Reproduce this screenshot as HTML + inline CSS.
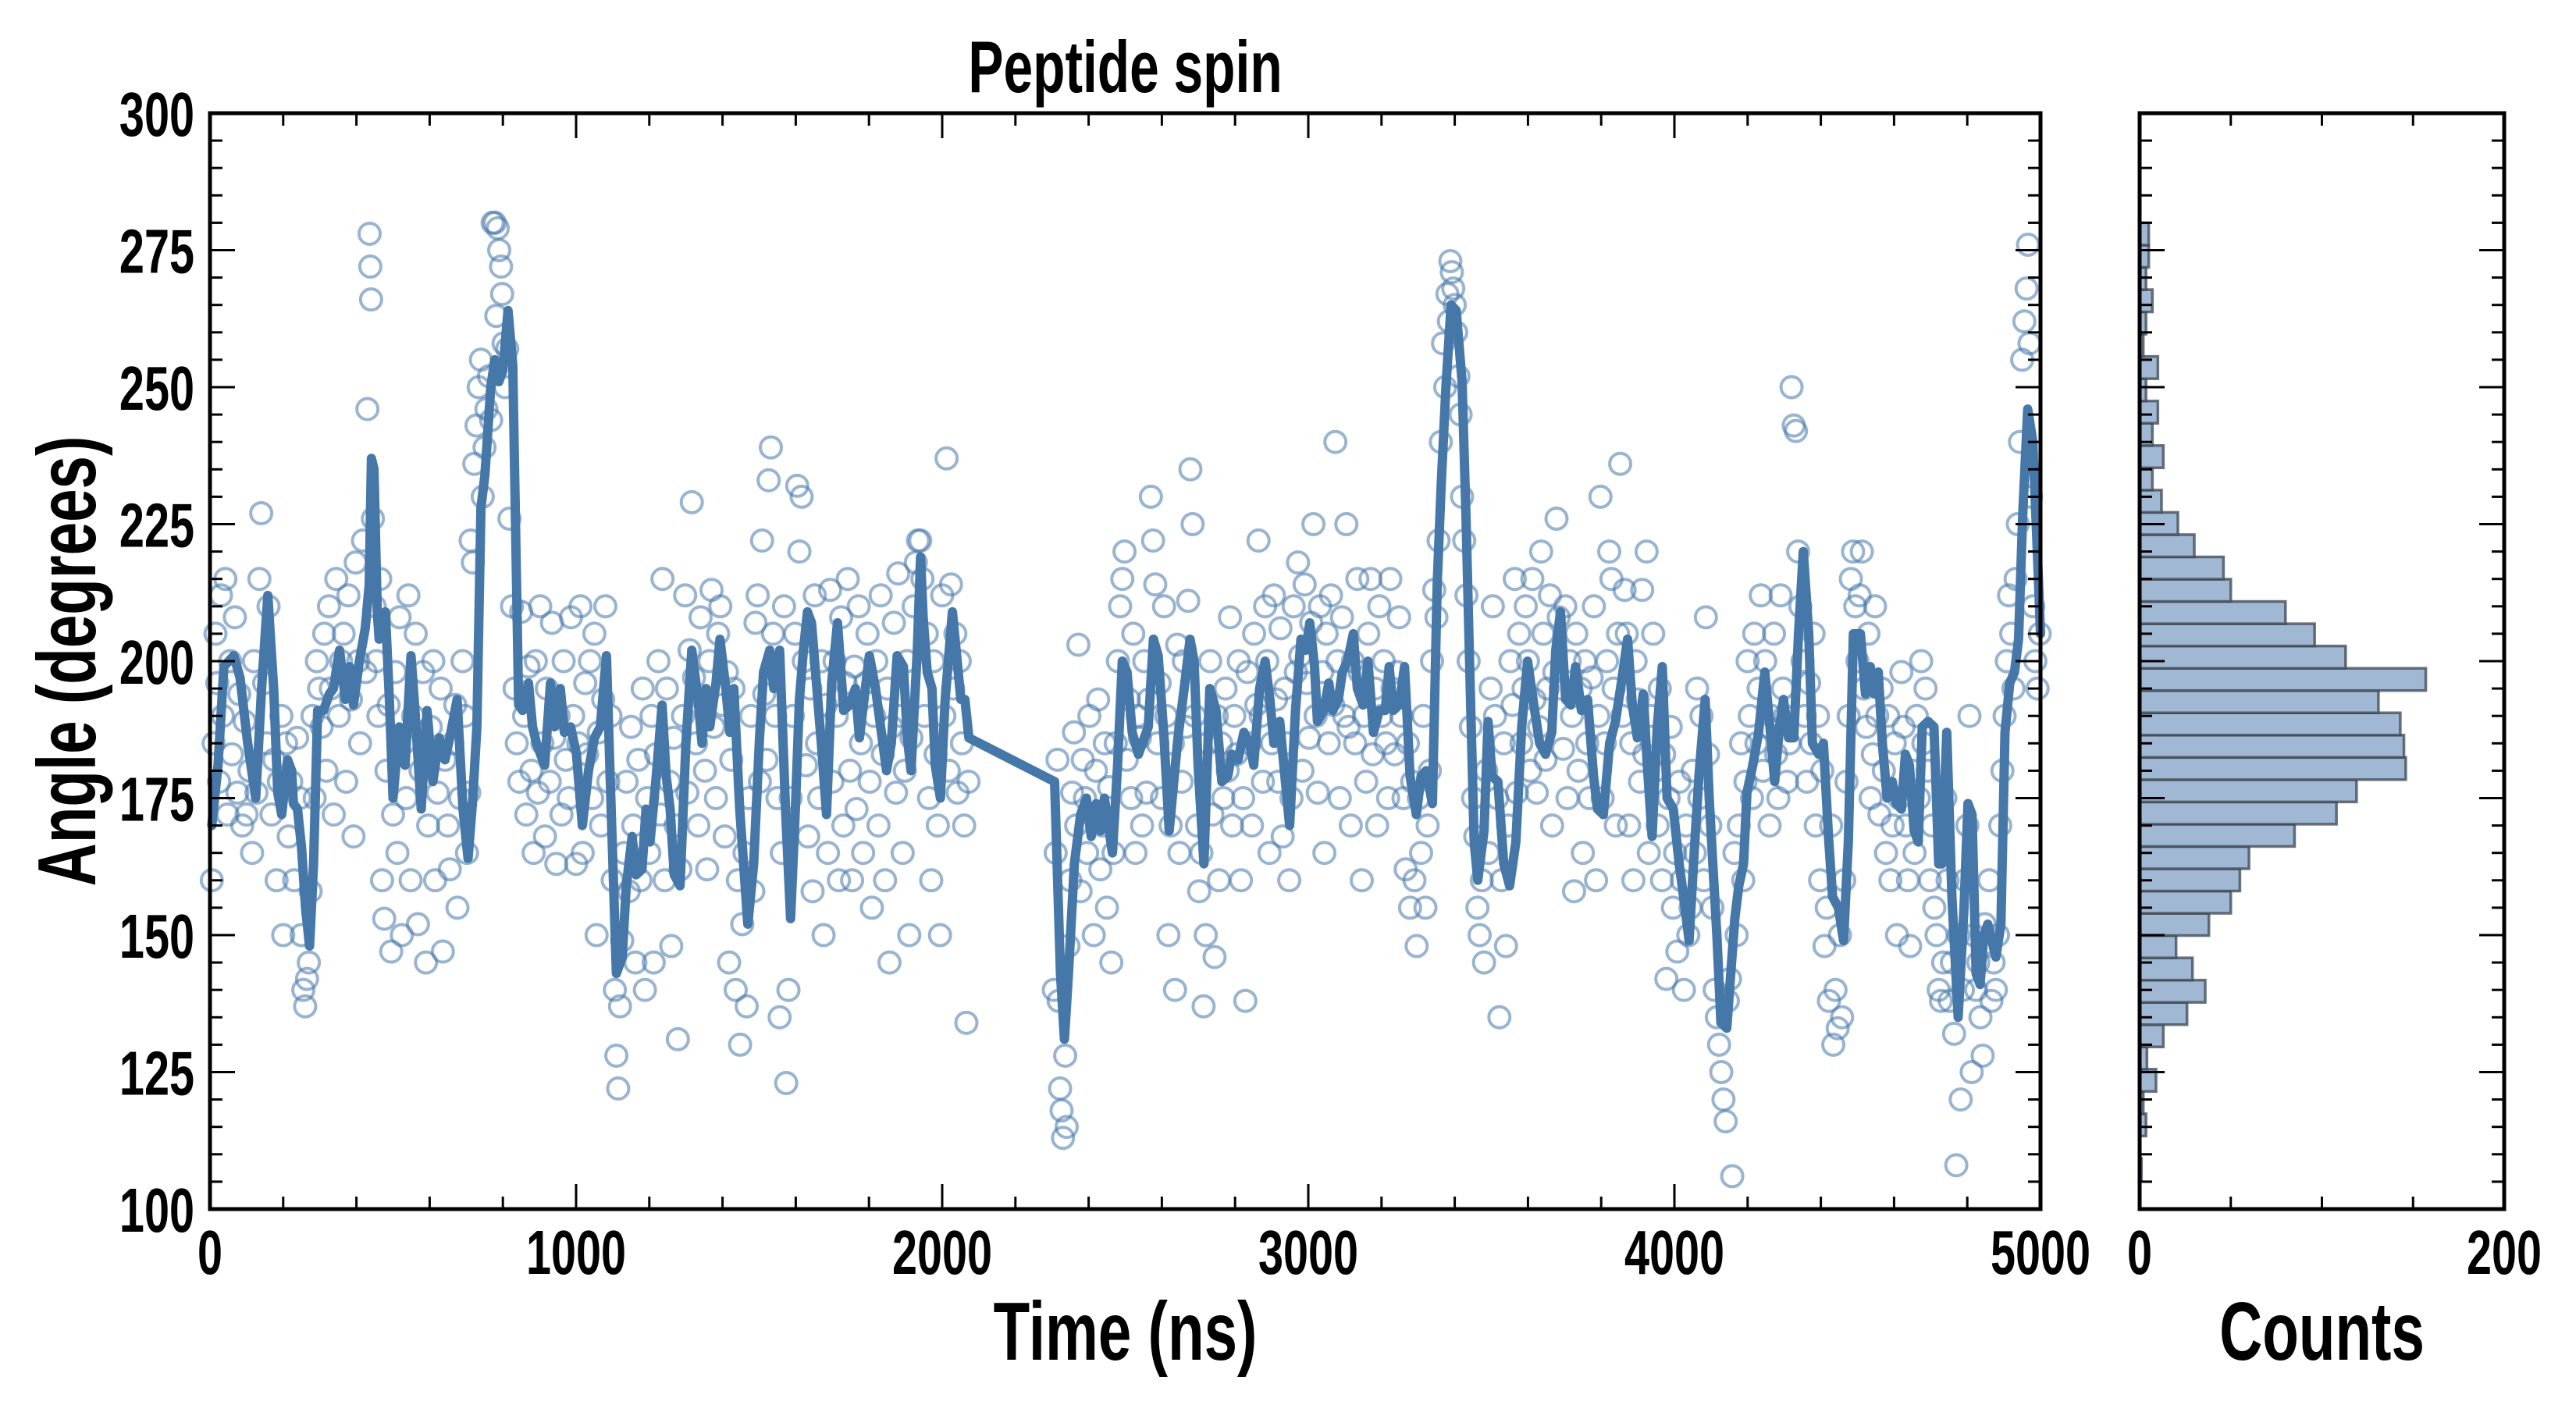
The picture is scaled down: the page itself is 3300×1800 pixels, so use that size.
<!DOCTYPE html>
<html><head><meta charset="utf-8"><style>
html,body{margin:0;padding:0;background:#fff;}
svg{display:block;}
text{font-family:"Liberation Sans Narrow","Liberation Sans",sans-serif;font-weight:bold;fill:#000;}
</style></head><body>
<svg id="chart" width="3300" height="1800" viewBox="0 0 3300 1800" xmlns="http://www.w3.org/2000/svg">
<rect width="3300" height="1800" fill="#fff"/>
<g id="main"></g>
<g id="hist"></g>
<g id="labels"></g>
</svg>
<script>
const lineT=[5,22,38,65,82,103,125,141,158,174,185,196,212,223,228,239,250,261,272,283,294,310,326,337,354,370,381,392,408,424,435,441,448,457,462,479,490,500,517,533,549,560,577,593,609,626,642,658,675,691,705,718,729,740,751,767,778,789,800,814,827,843,854,870,881,892,914,930,941,957,968,985,1001,1017,1034,1050,1066,1083,1093,1110,1126,1137,1153,1164,1180,1191,1202,1219,1235,1246,1257,1268,1284,1300,1316,1333,1344,1355,1365,1382,1393,1409,1420,1431,1447,1469,1485,1501,1512,1529,1540,1556,1572,1586,1599,1610,1621,1632,1643,1654,1670,1684,1698,1714,1731,1747,1763,1774,1790,1801,1818,1834,1848,1861,1877,1894,1905,1915,1932,1941,1948,1959,1972,1981,1995,2008,2028,2041,2051,2062,2073,2307,2323,2334,2345,2361,2378,2394,2407,2421,2432,2443,2454,2465,2479,2492,2505,2519,2536,2552,2563,2577,2590,2606,2620,2634,2644,2661,2677,2688,2699,2715,2731,2748,2764,2780,2791,2808,2824,2840,2851,2867,2882,2895,2906,2922,2936,2949,2965,2980,2993,3004,3017,3025,3042,3056,3067,3082,3093,3107,3123,3134,3150,3163,3178,3194,3210,3221,3232,3248,3263,3278,3295,3308,3322,3339,3352,3363,3376,3390,3404,3420,3431,3442,3453,3463,3480,3491,3502,3518,3534,3550,3567,3583,3599,3616,3632,3648,3665,3676,3689,3703,3717,3730,3746,3763,3779,3790,3806,3823,3839,3855,3872,3885,3899,3915,3926,3939,3953,3967,3980,3997,4013,4029,4040,4054,4067,4084,4095,4105,4116,4127,4143,4154,4165,4176,4189,4198,4214,4230,4247,4261,4274,4287,4298,4312,4326,4339,4352,4367,4377,4394,4407,4421,4432,4448,4462,4475,4489,4508,4522,4535,4546,4557,4568,4581,4595,4606,4620,4631,4642,4655,4666,4677,4693,4709,4722,4731,4744,4758,4775,4791,4802,4813,4824,4835,4845,4856,4867,4878,4892,4903,4916,4929,4940,4951,4965,4979,4992,5000];
const lineY=[170,181,199,201,197,185,175,195,212,195,176,172,182,180,174,173,166,155,148,163,191,191,194,195,202,193,199,192,200,206,214,237,235,209,204,209,193,175,188,181,201,191,173,191,178,186,182,187,193,173,164,175,188,228,234,250,255,251,253,264,254,192,191,196,188,185,181,196,188,195,187,188,183,170,180,186,188,201,179,143,146,159,168,161,162,173,167,179,192,179,173,161,159,185,202,193,185,195,188,196,204,195,187,195,173,152,163,186,198,202,195,202,173,153,173,193,202,209,207,198,185,172,196,207,191,192,195,186,195,201,195,187,180,185,201,199,186,180,202,219,208,198,195,181,175,193,209,200,193,193,186,178,143,131,143,163,172,175,168,174,169,175,170,165,181,200,198,187,183,186,188,204,201,186,169,179,186,195,204,200,181,163,195,191,178,179,183,182,187,185,181,195,200,193,185,189,179,170,191,204,202,207,199,189,191,196,191,193,198,200,205,195,192,200,187,191,191,199,191,192,199,179,172,179,180,174,214,232,250,265,264,251,226,196,167,160,169,189,179,178,163,159,167,188,200,192,185,183,187,202,209,193,192,199,191,193,179,173,172,185,189,196,204,192,186,194,181,168,188,199,175,173,163,155,149,165,179,193,175,163,150,134,133,143,153,159,163,176,181,187,198,188,178,188,193,186,186,205,220,205,185,183,185,168,157,155,149,167,205,205,194,199,194,198,185,175,178,174,173,183,181,169,167,188,189,188,163,163,187,157,135,155,174,172,143,141,150,152,149,146,152,187,196,198,204,226,246,240,219,205];
const scatter=[[5,160],[10,185],[15,205],[20,196],[25,178],[30,212],[35,190],[42,215],[48,172],[55,200],[60,183],[68,208],[75,176],[80,194],[88,170],[95,189],[100,172],[108,180],[115,165],[120,200],[127,176],[135,215],[140,227],[148,196],[155,185],[160,210],[168,172],[175,182],[182,160],[188,178],[195,190],[200,150],[208,185],[215,168],[222,178],[230,160],[238,186],[245,175],[250,150],[255,140],[260,137],[265,142],[270,145],[275,158],[280,190],[286,175],[292,200],[298,195],[305,188],[312,205],[318,180],[325,210],[330,195],[338,172],[345,215],[352,190],[358,200],[365,205],[372,178],[378,212],[385,193],[392,168],[398,218],[405,200],[410,185],[418,222],[425,198],[430,246],[436,278],[438,272],[440,266],[445,226],[450,210],[455,200],[460,190],[465,215],[470,160],[476,153],[482,180],[488,192],[495,147],[500,172],[506,198],[512,165],[518,208],[524,150],[530,185],[536,175],[542,212],[548,160],[555,190],[562,205],[568,152],[575,180],[582,198],[590,145],[596,170],[603,188],[610,200],[615,160],[622,176],[630,195],[636,147],[642,182],[650,170],[655,162],[662,185],[670,192],[676,155],[683,175],[690,200],[696,190],[702,165],[708,176],[712,222],[718,218],[722,236],[728,243],[734,250],[740,255],[745,230],[750,239],[755,246],[762,252],[768,244],[772,280],[778,280],[782,263],[786,279],[790,275],[795,272],[798,267],[802,258],[806,250],[812,257],[818,226],[825,210],[832,195],[838,185],[845,178],[850,209],[858,190],[864,172],[870,199],[878,180],[884,165],[890,200],[896,176],[902,210],[908,185],[915,168],[920,195],[928,178],[934,207],[940,186],[946,163],[952,190],[960,172],[966,200],[972,182],[980,175],[986,208],[992,190],[1000,163],[1006,185],[1012,210],[1018,165],[1025,196],[1030,183],[1038,200],[1044,175],[1050,205],[1056,150],[1062,187],[1068,170],[1074,193],[1080,210],[1088,178],[1094,190],[1100,160],[1106,140],[1110,128],[1115,122],[1120,137],[1126,149],[1132,165],[1138,178],[1144,158],[1150,188],[1156,170],[1162,145],[1170,182],[1176,160],[1182,195],[1188,140],[1194,175],[1200,165],[1206,190],[1212,145],[1218,183],[1225,200],[1230,172],[1236,215],[1242,160],[1248,195],[1255,178],[1260,148],[1266,186],[1272,170],[1278,131],[1285,162],[1292,190],[1298,212],[1304,176],[1310,202],[1316,229],[1322,197],[1328,185],[1334,170],[1340,208],[1346,193],[1352,180],[1358,162],[1364,200],[1370,213],[1376,188],[1382,175],[1388,205],[1394,210],[1400,192],[1406,168],[1412,198],[1418,145],[1424,182],[1430,195],[1436,140],[1442,160],[1448,130],[1454,152],[1460,165],[1466,137],[1472,175],[1478,190],[1484,158],[1490,207],[1496,212],[1502,178],[1508,222],[1514,194],[1520,182],[1526,233],[1532,239],[1538,205],[1544,190],[1550,175],[1556,135],[1562,165],[1568,210],[1574,123],[1580,140],[1586,175],[1592,190],[1598,205],[1604,232],[1610,220],[1616,230],[1622,200],[1628,181],[1634,168],[1640,195],[1646,158],[1652,212],[1658,185],[1664,175],[1670,200],[1676,150],[1682,192],[1688,165],[1694,213],[1700,178],[1706,200],[1712,190],[1718,160],[1724,208],[1730,170],[1736,196],[1742,215],[1748,180],[1754,160],[1760,199],[1766,173],[1772,210],[1778,185],[1784,165],[1790,196],[1796,205],[1802,178],[1808,155],[1814,190],[1820,200],[1826,170],[1832,212],[1838,183],[1844,160],[1850,195],[1856,145],[1862,188],[1868,207],[1874,176],[1880,216],[1886,190],[1892,165],[1898,180],[1904,200],[1910,150],[1916,186],[1922,210],[1928,218],[1934,222],[1940,222],[1946,215],[1952,190],[1958,205],[1964,175],[1970,160],[1976,200],[1982,183],[1988,170],[1994,150],[2000,212],[2006,190],[2012,237],[2018,180],[2024,214],[2030,195],[2036,205],[2042,176],[2048,200],[2054,185],[2060,170],[2066,134],[2072,178],[2305,140],[2310,165],[2315,182],[2318,138],[2322,122],[2326,118],[2330,113],[2336,128],[2340,115],[2345,148],[2350,160],[2355,176],[2360,187],[2366,170],[2372,203],[2378,158],[2384,182],[2390,175],[2396,165],[2402,190],[2408,172],[2414,150],[2420,180],[2426,193],[2432,162],[2438,170],[2444,185],[2450,155],[2456,177],[2462,145],[2468,165],[2474,185],[2480,200],[2486,210],[2492,215],[2498,220],[2504,182],[2510,193],[2516,175],[2522,205],[2528,165],[2534,190],[2540,186],[2546,170],[2552,200],[2558,176],[2564,193],[2570,230],[2576,222],[2582,214],[2588,185],[2594,196],[2600,175],[2606,210],[2612,190],[2618,150],[2624,170],[2630,185],[2636,140],[2642,203],[2648,165],[2654,178],[2660,200],[2666,188],[2672,211],[2678,235],[2684,225],[2690,190],[2696,170],[2702,158],[2708,165],[2714,137],[2720,150],[2726,185],[2732,200],[2738,172],[2744,146],[2750,190],[2756,160],[2762,185],[2768,175],[2774,195],[2780,180],[2786,208],[2792,170],[2798,190],[2804,183],[2810,200],[2816,160],[2822,175],[2828,138],[2834,198],[2840,185],[2846,170],[2852,205],[2858,192],[2864,222],[2870,190],[2876,178],[2882,210],[2888,200],[2894,165],[2900,185],[2906,212],[2912,193],[2918,178],[2924,206],[2930,168],[2936,195],[2942,185],[2948,160],[2954,175],[2960,210],[2966,198],[2972,218],[2978,201],[2984,180],[2990,214],[2996,196],[3002,186],[3008,207],[3014,225],[3020,190],[3026,176],[3032,210],[3038,198],[3044,165],[3050,205],[3056,185],[3062,212],[3068,192],[3074,240],[3080,200],[3086,175],[3092,208],[3098,190],[3104,225],[3110,188],[3116,170],[3122,200],[3128,185],[3134,215],[3140,198],[3146,160],[3152,190],[3158,178],[3164,205],[3170,215],[3176,183],[3182,195],[3188,170],[3194,210],[3200,190],[3206,200],[3212,185],[3218,175],[3224,215],[3230,195],[3236,183],[3242,198],[3248,208],[3254,190],[3260,175],[3266,162],[3272,185],[3278,155],[3284,178],[3290,160],[3296,148],[3302,175],[3308,165],[3314,190],[3320,155],[3326,170],[3332,180],[3338,200],[3344,213],[3350,208],[3356,222],[3362,240],[3368,258],[3374,250],[3380,267],[3384,262],[3388,273],[3392,271],[3396,268],[3400,265],[3404,260],[3410,252],[3416,245],[3420,230],[3426,222],[3432,212],[3438,200],[3444,188],[3450,175],[3456,168],[3462,155],[3468,150],[3474,160],[3480,145],[3486,180],[3492,165],[3498,195],[3504,210],[3510,190],[3516,175],[3522,135],[3528,160],[3534,185],[3540,148],[3546,170],[3552,200],[3558,192],[3564,215],[3570,176],[3576,205],[3582,185],[3588,195],[3594,210],[3600,200],[3606,180],[3612,215],[3618,193],[3624,176],[3630,188],[3636,220],[3642,205],[3648,182],[3654,195],[3660,212],[3666,170],[3672,198],[3678,226],[3684,208],[3690,195],[3696,184],[3702,210],[3708,175],[3714,200],[3720,190],[3726,158],[3732,205],[3738,180],[3744,195],[3750,165],[3756,200],[3762,185],[3768,175],[3774,197],[3780,210],[3786,160],[3792,190],[3798,230],[3804,175],[3810,185],[3816,200],[3822,220],[3828,215],[3834,195],[3840,170],[3846,205],[3852,236],[3858,190],[3864,213],[3870,205],[3876,170],[3882,185],[3888,160],[3894,200],[3900,193],[3906,178],[3912,213],[3918,183],[3924,220],[3930,165],[3936,190],[3942,205],[3948,180],[3954,170],[3960,195],[3966,160],[3972,183],[3978,142],[3984,175],[3990,188],[3996,155],[4002,165],[4008,147],[4014,178],[4020,160],[4026,140],[4032,170],[4038,150],[4044,155],[4050,180],[4056,165],[4062,195],[4068,175],[4074,190],[4080,160],[4086,208],[4092,183],[4098,170],[4104,155],[4110,140],[4116,135],[4122,130],[4128,125],[4134,120],[4140,116],[4146,138],[4152,142],[4158,106],[4164,165],[4170,150],[4176,170],[4182,185],[4188,160],[4194,178],[4200,200],[4206,190],[4212,175],[4218,205],[4224,185],[4230,195],[4236,212],[4242,180],[4248,200],[4254,188],[4260,170],[4266,190],[4272,205],[4278,183],[4284,175],[4290,212],[4296,195],[4302,190],[4308,178],[4314,185],[4320,250],[4326,243],[4332,242],[4338,220],[4344,210],[4350,200],[4356,190],[4362,178],[4368,196],[4374,185],[4380,205],[4386,170],[4392,190],[4398,160],[4404,180],[4410,148],[4416,155],[4422,138],[4428,170],[4434,130],[4440,140],[4446,133],[4452,150],[4458,135],[4464,160],[4470,178],[4476,190],[4482,215],[4488,220],[4494,210],[4500,200],[4506,212],[4512,220],[4518,195],[4524,188],[4530,205],[4536,175],[4542,183],[4548,210],[4554,190],[4560,172],[4566,195],[4572,180],[4578,165],[4584,190],[4590,160],[4596,170],[4602,185],[4608,150],[4614,175],[4620,198],[4626,188],[4632,170],[4638,160],[4644,148],[4650,180],[4656,165],[4662,190],[4668,175],[4674,200],[4680,185],[4686,195],[4692,180],[4698,160],[4704,170],[4710,155],[4716,150],[4722,140],[4728,138],[4734,145],[4740,175],[4746,160],[4752,138],[4758,145],[4764,132],[4770,108],[4776,150],[4782,120],[4788,140],[4794,160],[4800,170],[4806,190],[4812,125],[4818,150],[4824,140],[4830,145],[4836,135],[4842,128],[4848,152],[4854,148],[4860,160],[4866,138],[4872,145],[4878,140],[4884,150],[4890,170],[4896,180],[4902,190],[4908,200],[4914,212],[4920,205],[4926,195],[4932,215],[4938,225],[4944,240],[4950,255],[4956,262],[4962,268],[4966,276],[4970,258],[4974,230],[4980,210],[4986,200],[4992,195],[4998,205]];
const histStart=105.2, histBin=4.065;
const histCounts=[1,0,3.5,2,9,4,13,26,36,29,20,38,50,55,60,85,108,119,146,145,143,131,157,113,96,80,50,46,30,21,12,7,13,7,10,3.5,10,2,3.5,7,3.5,5,5];
const xTicks=[0,1000,2000,3000,4000,5000];
const yTicks=[100,125,150,175,200,225,250,275,300];
const hTicks=[0,200];

const NS="http://www.w3.org/2000/svg";
const L=269,R=2614,T=145,B=1549,HL=2741,HR=3208;
const xS=t=>L+(t/5000)*(R-L);
const yS=a=>B-(a-100)/200*(B-T);
const hS=c=>HL+c/200*(HR-HL);
const COL="#4577a9";
function mk(tag,attrs,parent){const e=document.createElementNS(NS,tag);for(const k in attrs)e.setAttribute(k,attrs[k]);parent.appendChild(e);return e;}
function txt(parent,x,y,s,size,anchor,rot){
  const g=mk('g',{transform:(rot?`translate(${x},${y}) rotate(-90)`:`translate(${x},${y})`)+' scale(0.72,1)'},parent);
  const t=mk('text',{x:0,y:0,'font-size':size,'text-anchor':anchor},g);t.textContent=s;return t;}
const main=document.getElementById('main'),hist=document.getElementById('hist'),labels=document.getElementById('labels');

const sg=mk('g',{},main);


scatter.forEach(p=>{
  const c=mk('circle',{cx:xS(p[0]),cy:yS(p[1]),r:13.5,fill:'none',stroke:COL,'stroke-width':4,'stroke-opacity':0.55},sg);
  
  
});
let d='';lineT.forEach((t,i)=>{d+=(i?'L':'M')+xS(t).toFixed(1)+','+yS(lineY[i]).toFixed(1);});
const pl=mk('path',{d:d,fill:'none',stroke:COL,'stroke-width':12,'stroke-linejoin':'round','stroke-linecap':'round'},main);



histCounts.forEach((c,i)=>{
  const a0=histStart+i*histBin,a1=a0+histBin;
  if(c<=0)return;
  const r=mk('rect',{x:HL,y:yS(a1),width:hS(c)-HL,height:yS(a0)-yS(a1),fill:'#a0b8d3',stroke:'#3c4650','stroke-opacity':0.75,'stroke-width':3.5},hist);
  
  
});

function frame(parent,x0,x1,name){
  const r=mk('rect',{x:x0,y:T,width:x1-x0,height:B-T,fill:'none',stroke:'#000','stroke-width':5},parent);
  
  
  for(let a=100;a<=300;a+=5){
    const len=(a%25===0)?32:16, y=yS(a);
    mk('line',{x1:x0,x2:x0+len,y1:y,y2:y,stroke:'#000','stroke-width':3},parent);
    mk('line',{x1:x1,x2:x1-len,y1:y,y2:y,stroke:'#000','stroke-width':3},parent);
  }
}
frame(main,L,R,'main-axes-frame');
frame(hist,HL,HR,'hist-axes-frame');
for(let t=0;t<=5000;t+=200){
  const len=(t%1000===0)?32:16,x=xS(t);
  mk('line',{x1:x,x2:x,y1:B,y2:B-len,stroke:'#000','stroke-width':3},main);
  mk('line',{x1:x,x2:x,y1:T,y2:T+len,stroke:'#000','stroke-width':3},main);
}
for(let c=0;c<=200;c+=50){
  const x=hS(c);
  mk('line',{x1:x,x2:x,y1:B,y2:B-16,stroke:'#000','stroke-width':3},hist);
  mk('line',{x1:x,x2:x,y1:T,y2:T+16,stroke:'#000','stroke-width':3},hist);
}
yTicks.forEach(a=>{const t=txt(labels,249,yS(a)+29,String(a),80,'end');
  
  });
xTicks.forEach(v=>{const t=txt(labels,xS(v),1632,String(v),80,'middle');
  
  });
hTicks.forEach(v=>{const t=txt(labels,hS(v),1632,String(v),80,'middle');
  
  });
let t;
t=txt(labels,(L+R)/2,118,'Peptide spin',94,'middle');


t=txt(labels,(L+R)/2,1742,'Time (ns)',106,'middle');


t=txt(labels,(HL+HR)/2,1742,'Counts',106,'middle');


t=txt(labels,122,(T+B)/2,'Angle (degrees)',106,'middle',true);


</script>
</body></html>
